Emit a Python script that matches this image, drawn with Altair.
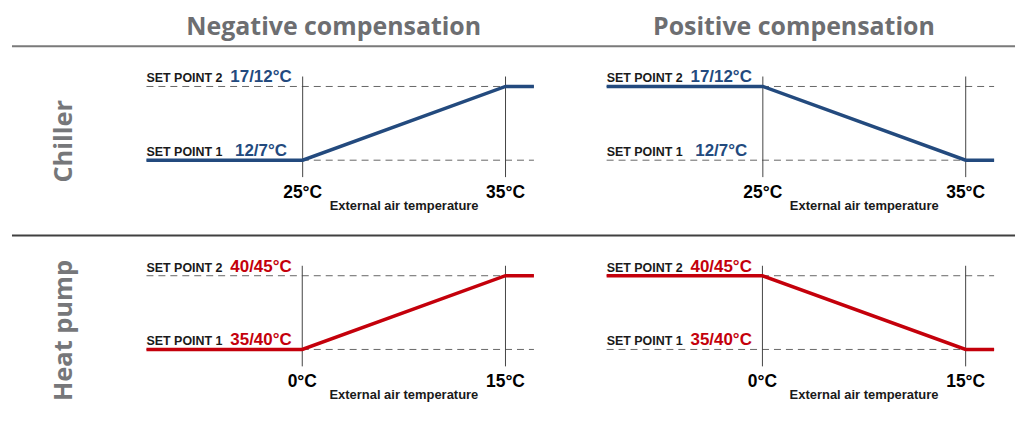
import altair as alt
import pandas as pd

# ---------------- data ----------------
systems = ["Chiller", "Heat pump"]
modes = ["Negative compensation", "Positive compensation"]
break_low = [25, 0]          # °C where compensation starts
break_high = [35, 15]        # °C where compensation ends
range_start = [17.3, -11.5]  # left end of the drawn temperature range
range_end = [36.4, 17.1]     # right end of the drawn temperature range
tick_labels = [["25°C", "35°C"], ["0°C", "15°C"]]
sp_names = ["SET POINT 1", "SET POINT 2"]
sp_levels = [1, 2]
sp_values = [["12/7°C", "17/12°C"], ["35/40°C", "40/45°C"]]
# set point level at [range start, break low, break high, range end]
profiles = {"Negative compensation": [1, 1, 2, 2],
            "Positive compensation": [2, 2, 1, 1]}
x_title = "External air temperature"

# ---------------- styles ----------------
line_colors = ["#234a7e", "#c4000b"]
sep_colors = ["#7a7a7a", "#404040"]
COND = "Liberation Sans"
HEAD = "Open Sans"
W, H = 389, 134
Y_DOMAIN = [1 - 48 / 74, 2 + 12 / 74]


def panel(si, mi):
    mode = modes[mi]
    xscale = alt.Scale(domain=[range_start[si], range_end[si]], nice=False, zero=False)
    yscale = alt.Scale(domain=Y_DOMAIN, nice=False, zero=False)

    def X(f):
        return alt.X(f, type="quantitative", scale=xscale, axis=None)

    def Y(f):
        return alt.Y(f, type="quantitative", scale=yscale, axis=None)

    line_df = pd.DataFrame({
        "temp": [range_start[si], break_low[si], break_high[si], range_end[si]],
        "sp": profiles[mode],
    })
    sp_df = pd.DataFrame({"sp": sp_levels, "name": sp_names, "value": sp_values[si]})
    brk_df = pd.DataFrame({"temp": [break_low[si], break_high[si]], "label": tick_labels[si]})

    layers = []
    layers.append(alt.Chart(sp_df).mark_rule(color="#666666", strokeWidth=1, strokeDash=[7, 5]).encode(
        y=Y("sp"), x=alt.value(0), x2=alt.value(W)))
    layers.append(alt.Chart(brk_df).mark_rule(color="#444444", strokeWidth=1).encode(
        x=X("temp"), y=alt.value(2), y2=alt.value(103)))
    layers.append(alt.Chart(line_df).mark_line(color=line_colors[si], strokeWidth=3.5,
                                              strokeCap="butt", strokeJoin="miter").encode(
        x=X("temp"), y=Y("sp")))
    layers.append(alt.Chart(sp_df).mark_text(align="left", baseline="alphabetic", dy=-4, font=COND,
                                             fontSize=12.5, fontWeight="bold", color="#1a1a1a").encode(
        x=alt.value(0), y=Y("sp"), text="name:N"))
    layers.append(alt.Chart(sp_df).mark_text(align="center", baseline="alphabetic", dy=-4, font=COND,
                                             fontSize=17, fontWeight="bold", color=line_colors[si]).encode(
        x=alt.value(115), y=Y("sp"), text="value:N"))
    layers.append(alt.Chart(brk_df).mark_text(align="center", baseline="alphabetic", font=COND,
                                              fontSize=17.5, fontWeight="bold", color="#000000").encode(
        x=X("temp"), y=alt.value(124), text="label:N"))
    layers.append(alt.Chart(brk_df).mark_text(align="center", baseline="alphabetic", font=COND,
                                              fontSize=13, fontWeight="bold", color="#1a1a1a").encode(
        x=alt.X("mean(temp)", type="quantitative", scale=xscale, axis=None),
        y=alt.value(136), text=alt.value(x_title)))
    if si == 0:
        layers.append(alt.Chart(pd.DataFrame({"title": [mode]})).mark_text(
            align="center", baseline="alphabetic", font=HEAD, fontSize=25, fontWeight="bold",
            color="#6d6e71").encode(x=alt.value(188), y=alt.value(-40), text="title:N"))
    if mi == 0:
        layers.append(alt.Chart(pd.DataFrame({"sys": [systems[si]]})).mark_text(
            align="center", baseline="middle", angle=270, font=HEAD, fontSize=25.5, fontWeight="bold",
            color="#76777a").encode(x=alt.value(-83), y=alt.value(67), text="sys:N"))
        layers.append(alt.Chart(pd.DataFrame({"sys": [systems[si]]})).mark_rule(
            color=sep_colors[si], strokeWidth=2).encode(
            x=alt.value(-135), x2=alt.value(872), y=alt.value(-28.5)))
    return alt.layer(*layers).properties(width=W, height=H)


cells = [panel(si, mi) for si in range(2) for mi in range(2)]
chart = alt.concat(*cells, columns=2, spacing={"row": 56, "column": 73}, bounds="flush").resolve_scale(
    x="independent", y="independent"
).properties(
    padding={"left": 3, "top": 6, "right": 5, "bottom": 5}
).configure_view(strokeWidth=0)

chart.save("out.html", embed_options={"renderer": "svg", "actions": False})
